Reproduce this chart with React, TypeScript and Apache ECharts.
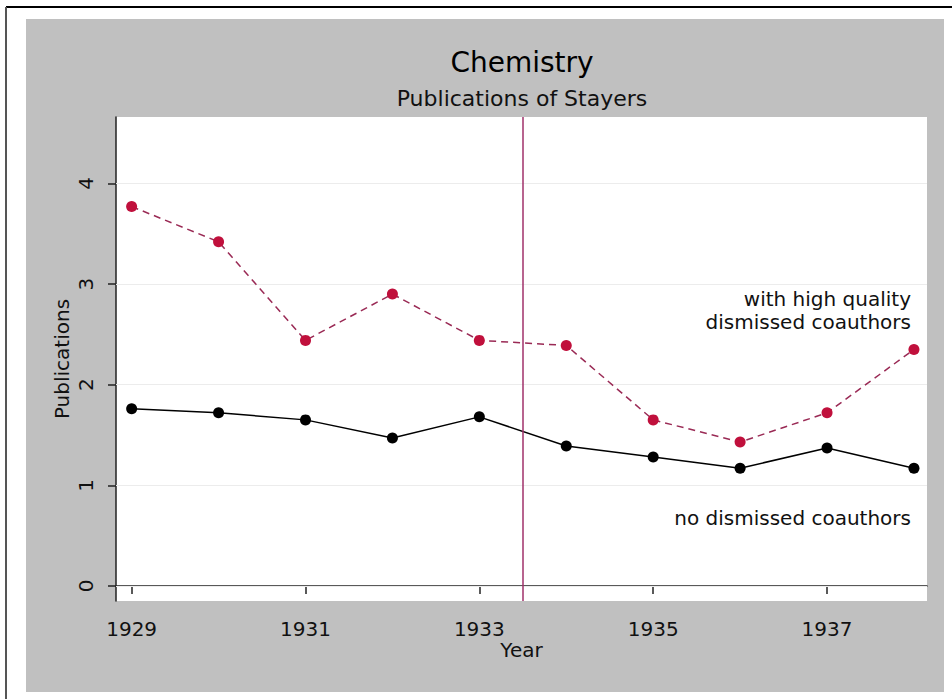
import React, { useEffect, useRef } from "react";
import * as echarts from "echarts";

const years = [1929, 1930, 1931, 1932, 1933, 1934, 1935, 1936, 1937, 1938];
const withHighQuality = [3.77, 3.42, 2.44, 2.9, 2.44, 2.39, 1.65, 1.43, 1.72, 2.35];
const noDismissed = [1.76, 1.72, 1.65, 1.47, 1.68, 1.39, 1.28, 1.17, 1.37, 1.17];
const xTicks = [1929, 1931, 1933, 1935, 1937];
const yTicks = [0, 1, 2, 3, 4];
const dismissalYear = 1933.5;
const titleText = "Chemistry";
const subtitleText = "Publications of Stayers";
const labelHigh = "with high quality\ndismissed coauthors";
const labelNone = "no dismissed coauthors";

const FONT = "DejaVu Sans";

export default function App() {
  const ref = useRef<HTMLDivElement>(null);
  useEffect(() => {
    if (!ref.current) return;
    const chart = echarts.init(ref.current, null, { renderer: "svg" });
    const axisLine = { show: true, lineStyle: { color: "#222", width: 1.5 } };
    chart.setOption({
      animation: false,
      backgroundColor: "#ffffff",
      grid: {
        left: 116,
        right: 25,
        top: 117,
        bottom: 98,
        show: true,
        backgroundColor: "#ffffff",
        borderWidth: 0,
      },
      graphic: [
        { type: "rect", z: -100, shape: { x: 26, y: 19, width: 918, height: 673 }, style: { fill: "#c0c0c0" } },
        { type: "line", shape: { x1: 6, y1: 7, x2: 952, y2: 7 }, style: { stroke: "#000", lineWidth: 2 } },
        { type: "line", shape: { x1: 6, y1: 7, x2: 6, y2: 699 }, style: { stroke: "#555", lineWidth: 2 } },
        {
          type: "text",
          x: 522,
          y: 62,
          style: { text: titleText, fontFamily: FONT, fontSize: 28, fill: "#000", textAlign: "center", textVerticalAlign: "middle" },
        },
        {
          type: "text",
          x: 522,
          y: 98,
          style: { text: subtitleText, fontFamily: FONT, fontSize: 22, fill: "#111", textAlign: "center", textVerticalAlign: "middle" },
        },
        {
          type: "text",
          x: 911,
          y: 310,
          style: { text: labelHigh, fontFamily: FONT, fontSize: 20, lineHeight: 23, fill: "#111", textAlign: "right", textVerticalAlign: "middle" },
        },
        {
          type: "text",
          x: 911,
          y: 518,
          style: { text: labelNone, fontFamily: FONT, fontSize: 20, fill: "#111", textAlign: "right", textVerticalAlign: "middle" },
        },
      ],
      xAxis: {
        type: "value",
        min: 1928.82,
        max: 1938.15,
        name: "Year",
        nameLocation: "middle",
        nameGap: 39,
        nameMoveOverlap: false,
        nameTextStyle: { fontFamily: FONT, fontSize: 20, color: "#111" },
        axisLine,
        axisTick: { show: true, length: 8, lineStyle: { color: "#222", width: 1.5 }, customValues: xTicks },
        axisLabel: { customValues: xTicks, fontFamily: FONT, fontSize: 20, color: "#111", margin: 18, formatter: (v: number) => String(v) },
        splitLine: { show: false },
      },
      yAxis: {
        type: "value",
        min: -0.15,
        max: 4.66,
        name: "Publications",
        nameLocation: "middle",
        nameRotate: 90,
        nameGap: 44,
        nameMoveOverlap: false,
        nameTextStyle: { fontFamily: FONT, fontSize: 20, color: "#111" },
        axisLine,
        axisTick: { show: true, length: 8, lineStyle: { color: "#222", width: 1.5 }, customValues: yTicks },
        axisLabel: { customValues: yTicks, rotate: 90, fontFamily: FONT, fontSize: 20, color: "#111", margin: 20 },
        splitLine: { show: false },
      },
      series: [
        {
          type: "line",
          name: "with high quality dismissed coauthors",
          data: years.map((y, i) => [y, withHighQuality[i]]),
          symbol: "circle",
          symbolSize: 11,
          itemStyle: { color: "#c0103c" },
          lineStyle: { color: "#9a2a55", width: 1.5, type: [7, 5] },
          z: 3,
          markLine: {
            silent: true,
            symbol: "none",
            label: { show: false },
            lineStyle: { color: "#ececec", width: 1, type: "solid" },
            data: yTicks.map((v) => ({ yAxis: v })),
            z: 1,
          },
        },
        {
          type: "line",
          name: "no dismissed coauthors",
          data: years.map((y, i) => [y, noDismissed[i]]),
          symbol: "circle",
          symbolSize: 11,
          itemStyle: { color: "#000" },
          lineStyle: { color: "#000", width: 1.5 },
          z: 3,
          markLine: {
            silent: true,
            symbol: "none",
            label: { show: false },
            lineStyle: { color: "#a0306a", width: 1.5, type: "solid" },
            data: [{ xAxis: dismissalYear }],
          },
        },
      ],
    });
    return () => chart.dispose();
  }, []);
  return <div ref={ref} style={{ position: "fixed", left: 0, top: 0, width: 952, height: 699 }} />;
}
